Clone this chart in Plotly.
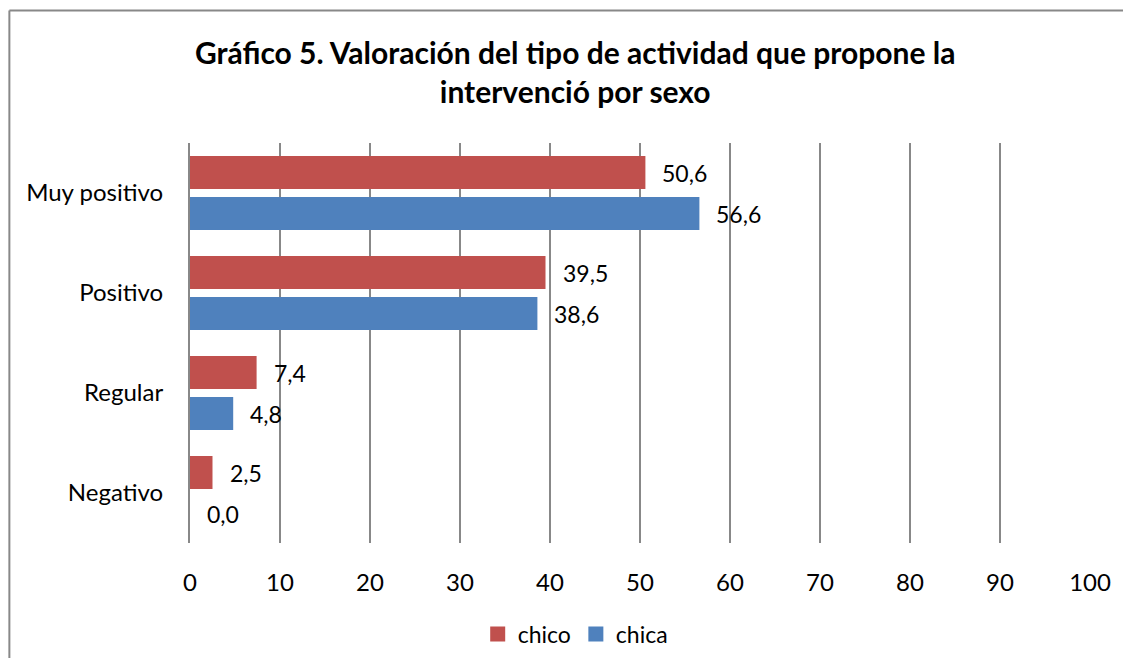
import plotly.graph_objects as go

categorias = ["Muy positivo", "Positivo", "Regular", "Negativo"]
chico = [50.6, 39.5, 7.4, 2.5]
chica = [56.6, 38.6, 4.8, 0.0]
x_ticks = [0, 10, 20, 30, 40, 50, 60, 70, 80, 90, 100]

ROJO = "#C0504D"
AZUL = "#4F81BD"
FUENTE = "Lato"

fig = go.Figure()
fig.add_trace(go.Bar(y=categorias, x=chico, name="chico", orientation="h", showlegend=False,
                     marker=dict(color=ROJO, line=dict(width=0))))
fig.add_trace(go.Bar(y=categorias, x=chica, name="chica", orientation="h", showlegend=False,
                     marker=dict(color=AZUL, line=dict(width=0))))

# leyenda con cuadrados más grandes (estilo Excel)
for nombre, color in [("chico", ROJO), ("chica", AZUL)]:
    fig.add_trace(go.Scatter(x=[None], y=[None], mode="markers", name=nombre,
                             marker=dict(symbol="square", size=15, color=color)))

# etiquetas de datos, a la derecha de cada barra
for serie, vals, dy in [("chico", chico, 20.5), ("chica", chica, -20.5)]:
    for cat, v in zip(categorias, vals):
        fig.add_annotation(x=v, y=cat, text=f"{v:.1f}".replace(".", ","),
                           showarrow=False, xanchor="left", xshift=15, yshift=dy,
                           font=dict(family=FUENTE, size=23, color="#000000"))

# marco exterior del gráfico (solo se ven el borde superior y el izquierdo)
borde = dict(color="#888888", width=2)
fig.add_shape(type="line", xref="paper", yref="paper",
              x0=-0.2007, x1=1.3, y0=1.3313, y1=1.3313, line=borde)
fig.add_shape(type="line", xref="paper", yref="paper",
              x0=-0.2007, x1=-0.2007, y0=-0.5, y1=1.3313, line=borde)

fig.update_layout(
    width=1115, height=650,
    margin=dict(l=182, r=31, t=135, b=115),
    paper_bgcolor="white", plot_bgcolor="white",
    barmode="group", bargap=0.18, bargroupgap=0.195,
    separators=",.",
    font=dict(family=FUENTE, size=24, color="#000000"),
    title=dict(text="<b>Gráfico 5. Valoración del tipo de actividad que propone la<br>intervenció por sexo</b>",
               x=0.428, xref="paper", xanchor="center", y=0.9131, yanchor="middle",
               font=dict(family=FUENTE, size=30, color="#000000")),
    legend=dict(orientation="h", x=0.428, xref="paper", xanchor="center",
                y=0.0369, yref="container", yanchor="middle",
                font=dict(family=FUENTE, size=23), itemwidth=30, traceorder="normal"),
    showlegend=True,
)
fig.update_xaxes(range=[0, 100], tickvals=x_ticks, showgrid=True, gridcolor="#888888", gridwidth=2,
                 zeroline=False, showline=False, ticks="", ticklabelstandoff=23,
                 tickfont=dict(family=FUENTE, size=24))
fig.update_yaxes(autorange="reversed", showline=True, linecolor="#888888", linewidth=2,
                 ticks="", ticklabelstandoff=20, tickfont=dict(family=FUENTE, size=24))

fig.write_html("out.html")
